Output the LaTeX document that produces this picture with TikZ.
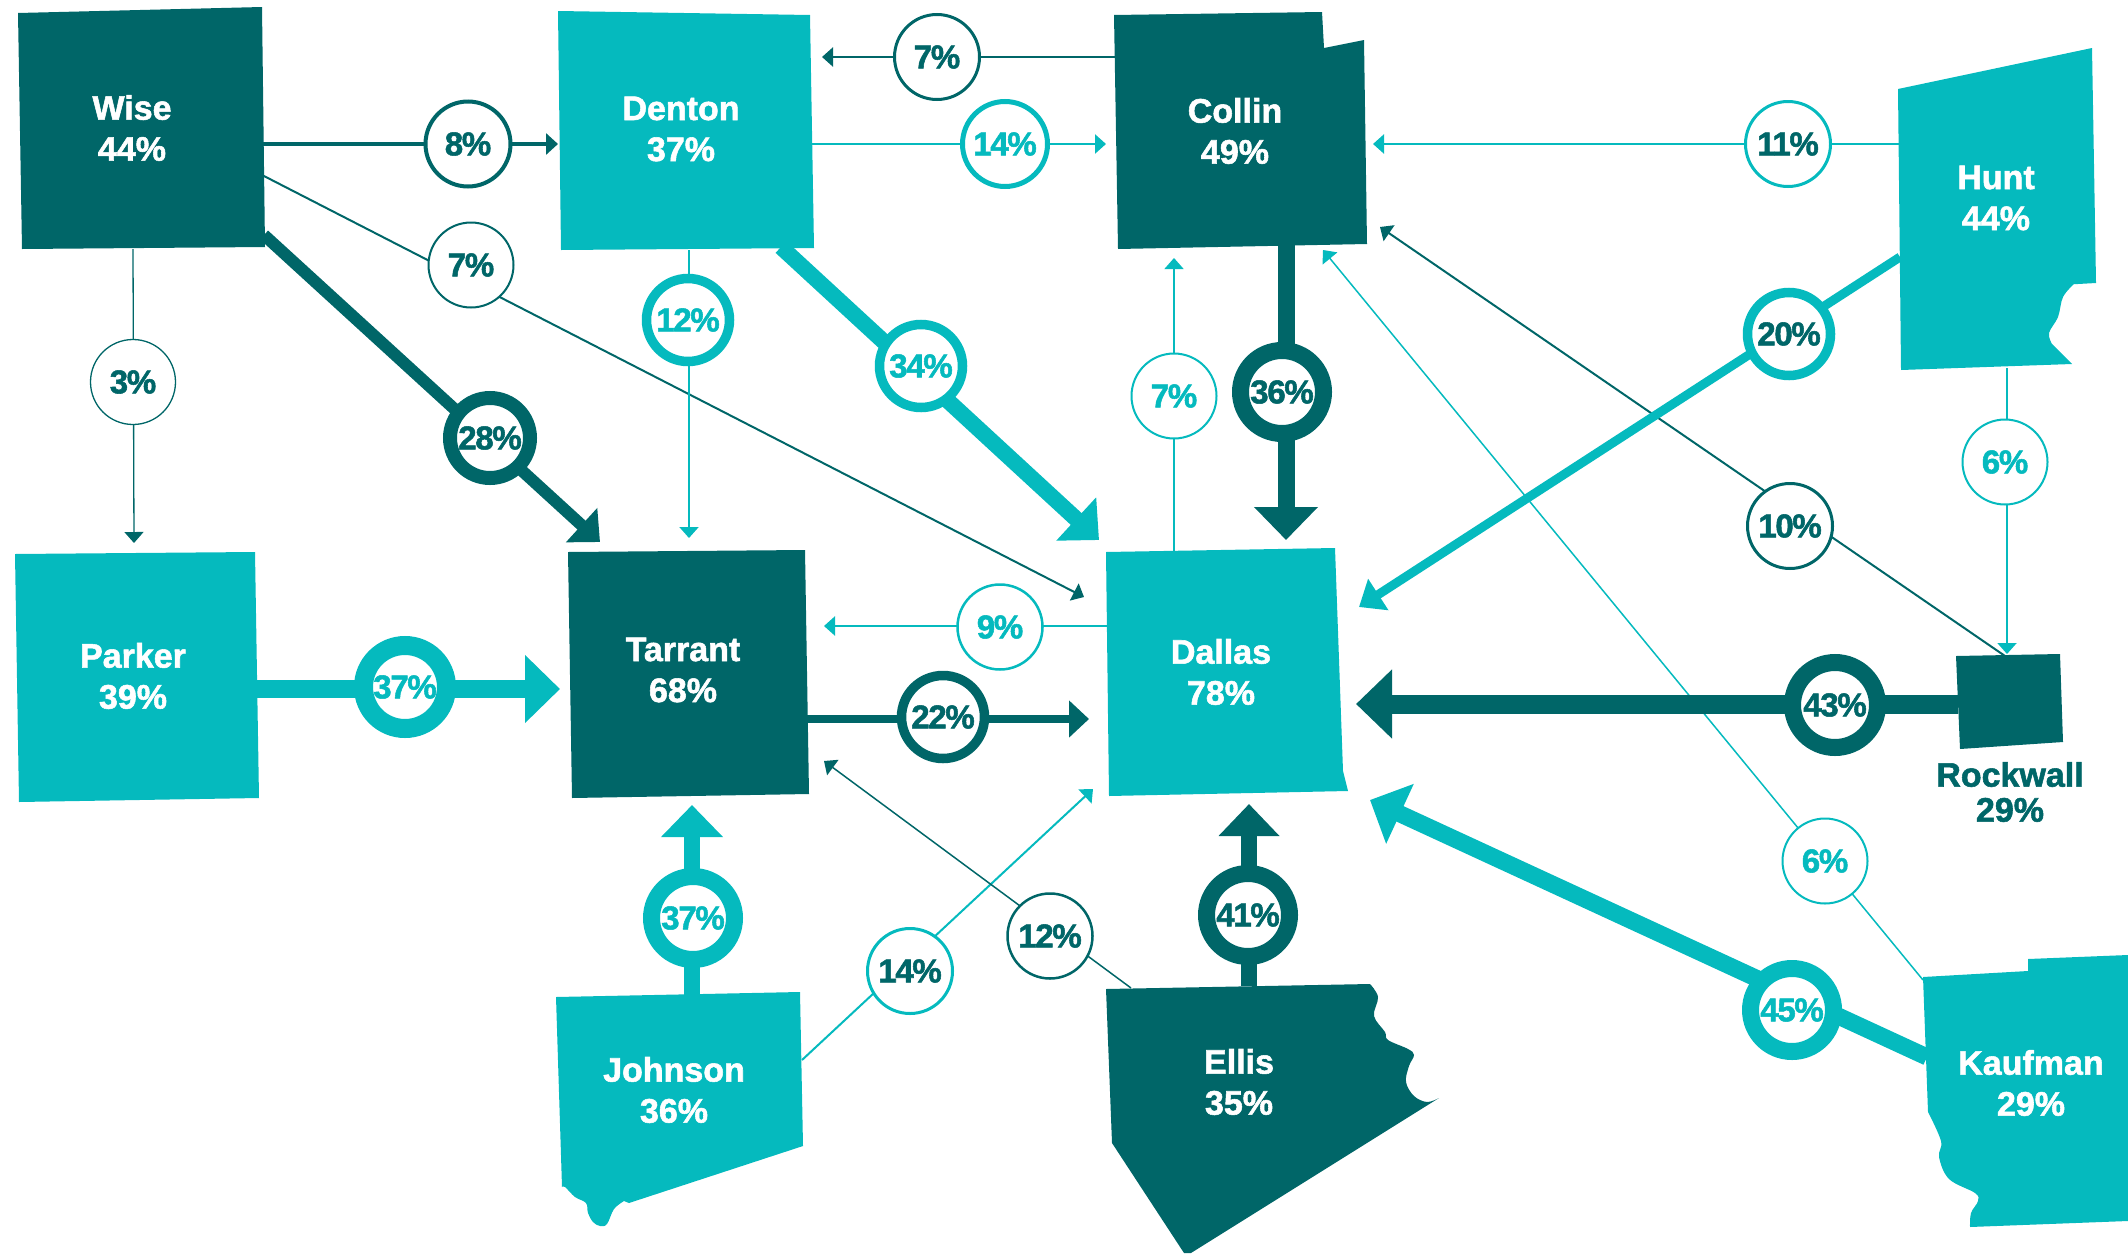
\documentclass[tikz,border=0pt]{standalone}
\usepackage{fontspec}
\setmainfont{Liberation Sans}[BoldFeatures={FakeBold=1.6}]
\usetikzlibrary{arrows.meta}
\definecolor{deepteal}{RGB}{0,102,104}
\definecolor{brightteal}{RGB}{5,186,190}
\newcommand{\pctsize}{\fontsize{33}{41}\selectfont\bfseries\addfontfeature{LetterSpace=-4}}

\begin{document}
\begin{tikzpicture}[x=1pt,y=-1pt]
    \tikzstyle{flowthin}=[line width=2pt,-{Triangle[length=11pt,width=19pt]}]
    \tikzstyle{flowmid}=[line width=4.5pt,-{Triangle[length=12pt,width=21pt]}]
    \tikzstyle{flowwide}=[line width=8pt,-{Triangle[length=20pt,width=36pt]}]
    \tikzstyle{flowbig}=[line width=12pt,-{Triangle[length=25pt,width=45pt]}]
    \tikzstyle{flowheavy}=[line width=17pt,-{Triangle[length=33pt,width=62pt]}]
    \tikzstyle{ring}=[circle,fill=white,inner sep=0pt,font=\pctsize]
    \tikzstyle{ringthin}=[ring,line width=2pt,minimum size=85pt]
    \tikzstyle{ringmid}=[ring,line width=4pt,minimum size=85pt]
    \tikzstyle{ringwide}=[ring,line width=9.5pt,minimum size=83pt]
    \tikzstyle{ringbig}=[ring,line width=14pt,minimum size=80pt]
    \tikzstyle{ringheavy}=[ring,line width=17pt,minimum size=83pt]
    \tikzstyle{dk}=[draw=deepteal,text=deepteal]
    \tikzstyle{br}=[draw=brightteal,text=brightteal]
    \tikzstyle{brdk}=[draw=brightteal,text=deepteal]
    \tikzstyle{county}=[align=center,text=white,font=\fontsize{34}{41}\selectfont\bfseries]

    \useasboundingbox (0,0) rectangle (2128,1253);

    \coordinate (wiseA) at (133,249);
    \coordinate (parkerA) at (134,543);
    \coordinate (wiseB) at (262,175);
    \coordinate (dallasA) at (1084,597);
    \coordinate (wiseC) at (262,144);
    \coordinate (dentonA) at (558,144);
    \coordinate (wiseD) at (264,235);
    \coordinate (tarrantA) at (600,542);
    \coordinate (dentonB) at (689,250);
    \coordinate (tarrantB) at (689,538);
    \coordinate (dentonC) at (781,247);
    \coordinate (dallasB) at (1099,540);
    \coordinate (collinA) at (1116,57);
    \coordinate (dentonD) at (822,57);
    \coordinate (dentonE) at (812,144);
    \coordinate (collinB) at (1106,144);
    \coordinate (huntA) at (1899,144);
    \coordinate (collinC) at (1373,144);
    \coordinate (huntB) at (1900,257);
    \coordinate (dallasC) at (1359,607);
    \coordinate (collinD) at (1286,244);
    \coordinate (dallasD) at (1286,540);
    \coordinate (dallasE) at (1174,552);
    \coordinate (collinE) at (1174,258);
    \coordinate (huntC) at (2007,368);
    \coordinate (rockwallA) at (2007,654);
    \coordinate (rockwallB) at (2005,656);
    \coordinate (collinF) at (1380,227);
    \coordinate (kaufmanA) at (1923,980);
    \coordinate (collinG) at (1323,250);
    \coordinate (dallasF) at (1107,626);
    \coordinate (tarrantC) at (824,626);
    \coordinate (parkerB) at (257,689);
    \coordinate (tarrantD) at (560,689);
    \coordinate (tarrantE) at (807,719);
    \coordinate (dallasG) at (1089,719);
    \coordinate (rockwallC) at (1958,704);
    \coordinate (dallasH) at (1356,704);
    \coordinate (kaufmanB) at (1927,1057);
    \coordinate (dallasI) at (1370,800);
    \coordinate (johnsonA) at (692,995);
    \coordinate (tarrantF) at (692,805);
    \coordinate (johnsonB) at (802,1060);
    \coordinate (dallasJ) at (1093,789);
    \coordinate (ellisA) at (1131,988);
    \coordinate (tarrantG) at (824,761);
    \coordinate (ellisB) at (1249,986);
    \coordinate (dallasK) at (1249,804);

    \draw[flowthin,deepteal,line width=1.3pt] (wiseA) -- (parkerA);
    \draw[flowthin,deepteal] (wiseB) -- (dallasA);
    \draw[flowthin,brightteal] (dentonB) -- (tarrantB);
    \draw[flowthin,deepteal,line width=2.5pt] (collinA) -- (dentonD);
    \draw[flowthin,brightteal,line width=2.5pt] (dentonE) -- (collinB);
    \draw[flowthin,brightteal,line width=2.5pt] (huntA) -- (collinC);
    \draw[flowthin,brightteal,line width=1.5pt] (dallasE) -- (collinE);
    \draw[flowthin,brightteal] (huntC) -- (rockwallA);
    \draw[flowthin,deepteal] (rockwallB) -- (collinF);
    \draw[flowthin,brightteal,line width=1.5pt] (kaufmanA) -- (collinG);
    \draw[flowthin,brightteal,line width=2.5pt] (dallasF) -- (tarrantC);
    \draw[flowthin,brightteal] (johnsonB) -- (dallasJ);
    \draw[flowthin,deepteal,line width=1.5pt] (ellisA) -- (tarrantG);
    \draw[flowmid,deepteal] (wiseC) -- (dentonA);
    \draw[flowwide,deepteal] (tarrantE) -- (dallasG);
    \draw[flowwide,brightteal,line width=9pt,-{Triangle[length=23pt,width=36pt]}] (huntB) -- (dallasC);
    \draw[flowbig,deepteal] (wiseD) -- (tarrantA);
    \draw[flowbig,brightteal,line width=16pt,-{Triangle[length=31pt,width=57pt]}] (dentonC) -- (dallasB);
    \draw[flowheavy,deepteal] (collinD) -- (dallasD);
    \draw[flowheavy,brightteal,line width=18pt,-{Triangle[length=35pt,width=66pt]}] (parkerB) -- (tarrantD);
    \draw[flowheavy,deepteal,line width=19pt,-{Triangle[length=36pt,width=67pt]}] (rockwallC) -- (dallasH);
    \draw[flowheavy,brightteal,-{Triangle[length=33pt,width=64pt]}] (kaufmanB) -- (dallasI);
    \draw[flowheavy,brightteal,line width=16pt,-{Triangle[length=32pt,width=60pt]}] (johnsonA) -- (tarrantF);
    \draw[flowheavy,deepteal,line width=16pt,-{Triangle[length=32pt,width=59pt]}] (ellisB) -- (dallasK);

    \fill[deepteal] (18,13) -- (262,7) -- (265,247) -- (22,249) -- cycle;
    \fill[brightteal] (558,11) -- (810,15) -- (814,248) -- (561,250) -- cycle;
    \fill[deepteal] (1114,15) -- (1322,12) -- (1324,48) -- (1364,40) -- (1367,244) -- (1118,249) -- cycle;
    \fill[brightteal] (1898,89) -- (2092,48) -- (2096,283) -- (2078,284)
        -- plot[smooth,tension=.6] coordinates {(2074,284) (2063,297) (2058,317) (2049,333) (2052,344)}
        -- (2072,364) -- (1901,370) -- cycle;
    \fill[brightteal] (15,554) -- (255,552) -- (259,798) -- (19,802) -- cycle;
    \fill[deepteal] (568,552) -- (805,550) -- (809,794) -- (572,798) -- cycle;
    \fill[brightteal] (1106,552) -- (1335,548) -- (1343,771) -- (1348,791) -- (1109,796) -- cycle;
    \fill[brightteal] (556,997) -- (800,992) -- (803,1146) -- (629,1203)
        -- plot[smooth,tension=.6] coordinates {(624,1201) (614,1209) (607,1224) (600,1226) (593,1222) (588,1213) (586,1203) (575,1197) (565,1187) (562,1187)}
        -- cycle;
    \fill[deepteal] (1106,989) -- (1370,984)
        -- plot[smooth,tension=.6] coordinates {(1370,984) (1378,997) (1374,1016) (1385,1032) (1388,1040) (1408,1049) (1414,1055) (1409,1066) (1406,1082) (1414,1096) (1427,1102) (1439,1098)}
        -- (1191,1253) -- (1184,1253) -- (1112,1143) -- cycle;
    \fill[deepteal] (1956,656) -- (2060,654) -- (2063,742) -- (1960,749) -- cycle;
    \fill[brightteal] (1923,977) -- (2028,971) -- (2028,959) -- (2128,955) -- (2128,1221) -- (1970,1227)
        -- plot[smooth,tension=.6] coordinates {(1970,1227) (1971,1213) (1978,1201) (1975,1193) (1949,1179) (1939,1157) (1941,1141) (1928,1112)}
        -- cycle;

    \node[county] (wise) at (132,128) {Wise\\44\%};
    \node[county] (denton) at (681,129) {Denton\\37\%};
    \node[county] (collin) at (1235,131) {Collin\\49\%};
    \node[county] (hunt) at (1996,198) {Hunt\\44\%};
    \node[county] (parker) at (133,676) {Parker\\39\%};
    \node[county] (tarrant) at (683,670) {Tarrant\\68\%};
    \node[county] (dallas) at (1221,672) {Dallas\\78\%};
    \node[county] (johnson) at (674,1090) {Johnson\\36\%};
    \node[county] (ellis) at (1239,1082) {Ellis\\35\%};
    \node[county] (kaufman) at (2031,1083) {Kaufman\\29\%};
    \node[county,text=deepteal,font=\fontsize{34}{35}\selectfont\bfseries] (rockwall) at (2010,792) {Rockwall\\29\%};

    \node[ringmid,dk] (wisedenton) at (468,144) {8\%};
    \node[ringthin,dk,line width=1.3pt] (wiseparker) at (133,382) {3\%};
    \node[ringthin,dk] (wisedallas) at (471,265) {7\%};
    \node[ringbig,dk] (wisetarrant) at (490,438) {28\%};
    \node[ringwide,br] (dentontarrant) at (688,320) {12\%};
    \node[ringwide,br] (dentondallas) at (921,366) {34\%};
    \node[ringmid,dk,line width=3pt] (collindenton) at (937,57) {7\%};
    \node[ringmid,br,line width=5pt] (dentoncollin) at (1005,144) {14\%};
    \node[ringmid,brdk,line width=3pt] (huntcollin) at (1788,144) {11\%};
    \node[ringwide,brdk] (huntdallas) at (1789,334) {20\%};
    \node[ringheavy,dk] (collindallas) at (1282,392) {36\%};
    \node[ringthin,br] (dallascollin) at (1174,396) {7\%};
    \node[ringthin,br] (huntrockwall) at (2005,462) {6\%};
    \node[ringmid,dk,line width=3pt] (rockwallcollin) at (1790,526) {10\%};
    \node[ringthin,br,line width=2.5pt] (dallastarrant) at (1000,627) {9\%};
    \node[ringheavy,br,line width=19pt,minimum size=83pt] (parkertarrant) at (405,687) {37\%};
    \node[ringwide,dk] (tarrantdallas) at (943,717) {22\%};
    \node[ringheavy,dk,minimum size=85pt] (rockwalldallas) at (1835,705) {43\%};
    \node[ringheavy,br] (johnsontarrant) at (693,918) {37\%};
    \node[ringmid,brdk,line width=3pt] (johnsondallas) at (910,971) {14\%};
    \node[ringthin,dk,line width=2.5pt] (ellistarrant) at (1050,936) {12\%};
    \node[ringheavy,dk] (ellisdallas) at (1248,915) {41\%};
    \node[ringthin,br] (kaufmancollin) at (1825,861) {6\%};
    \node[ringheavy,br] (kaufmandallas) at (1792,1010) {45\%};
\end{tikzpicture}
\end{document}
